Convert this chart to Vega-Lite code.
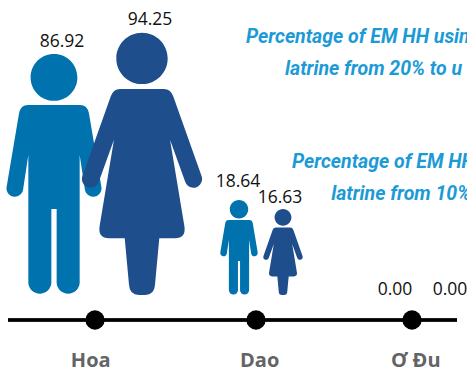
{
"$schema":"https://vega.github.io/schema/vega-lite/v6.json",
"width":467,"height":371,"padding":0,"autosize":{"type":"none"},
"background":"white",
"config":{"view":{"stroke":null},"axis":{"disable":true}},
"datasets":{
"people":[
{"group":"Hoa","gender":"Male","value":86.92,"slot":1,"labelSlot":1.098},
{"group":"Hoa","gender":"Female","value":94.25,"slot":2,"labelSlot":2.082},
{"group":"Dao","gender":"Male","value":18.64,"slot":3,"labelSlot":2.99},
{"group":"Dao","gender":"Female","value":16.63,"slot":4,"labelSlot":3.944},
{"group":"Ơ Đu","gender":"Male","value":0,"slot":5,"labelSlot":5},
{"group":"Ơ Đu","gender":"Female","value":0,"slot":6,"labelSlot":6}
],
"groups":[
{"group":"Hoa","slot":1.5,"labelSlot":1.448},
{"group":"Dao","slot":3.5,"labelSlot":3.568},
{"group":"Ơ Đu","slot":5.5,"labelSlot":5.549}
],
"notes":[
{"text":"Percentage of EM HH usin","slot":3.206,"level":88.25},
{"text":"latrine from 20% to u","slot":4.018,"level":73.27},
{"text":"Percentage of EM HH","slot":4.08,"level":27.91},
{"text":"latrine from 10%","slot":4.43,"level":17.0}
]
},
"layer":[
{"data":{"name":"groups"},"mark":{"type":"rule","stroke":"#000000","strokeWidth":3},
 "encoding":{"x":{"datum":0,"type":"quantitative","scale":{"nice":false,"domain":[0,1,1.5,2,3,3.5,4,5,5.5,6,7],"range":[8,54,95,142,239,256,283,395,412,450,457]}},"x2":{"datum":7},"y":{"datum":-10,"type":"quantitative","scale":{"nice":false,"domain":[-20,-10,0,16.63,18.64,86.92,94.25],"range":[367,320,295,203,187,47,25]}}}},
{"data":{"name":"groups"},"mark":{"type":"point","shape":"circle","filled":true,"opacity":1,"color":"#000000","size":373},
 "encoding":{"x":{"field":"slot","type":"quantitative"},"y":{"datum":-10,"type":"quantitative"}}},
{"data":{"name":"groups"},"mark":{"type":"text","font":"Open Sans","fontWeight":"bold","fontSize":20,"color":"#636466","baseline":"alphabetic","align":"center"},
 "encoding":{"x":{"field":"labelSlot","type":"quantitative"},"y":{"datum":-20,"type":"quantitative"},"text":{"field":"group"}}},
{"data":{"name":"people"},"transform":[{"filter":"datum.value > 0"}],"mark":{"type":"point","filled":true,"opacity":1,"strokeWidth":0},
 "encoding":{"x":{"field":"slot","type":"quantitative"},"y":{"datum":0,"type":"quantitative"},
  "order":{"field":"slot"},
  "color":{"field":"gender","type":"nominal","legend":null,"scale":{"domain":["Male","Female"],"range":["#0072AE","#1F4E8C"]}},
  "shape":{"field":"gender","type":"nominal","legend":null,"scale":{"domain":["Male","Female"],"range":[
   "M-0.194 -1.806A0.194 0.194 0 1 1 0.194 -1.806A0.194 0.194 0 1 1 -0.194 -1.806ZM-0.216 -1.577L0.216 -1.577Q0.277 -1.577 0.29 -1.508L0.393 -0.899A0.069 0.069 0 0 1 0.257 -0.871L0.213 -1.162L0.213 -0.097A0.096 0.096 0 0 1 0.022 -0.097L0.022 -0.714L-0.022 -0.714L-0.022 -0.097A0.096 0.096 0 0 1 -0.213 -0.097L-0.213 -1.162L-0.257 -0.871A0.069 0.069 0 0 1 -0.393 -0.899L-0.29 -1.508Q-0.277 -1.577 -0.216 -1.577Z",
   "M-0.196 -1.806A0.196 0.196 0 1 1 0.196 -1.806A0.196 0.196 0 1 1 -0.196 -1.806ZM-0.168 -1.572L0.168 -1.572Q0.217 -1.572 0.239 -1.516L0.456 -0.904A0.066 0.066 0 0 1 0.329 -0.866L0.214 -1.185L0.324 -0.522Q0.336 -0.433 0.252 -0.433L0.132 -0.433L0.099 -0.076Q0.094 0 0.025 0L-0.025 0Q-0.094 0 -0.099 -0.076L-0.132 -0.433L-0.252 -0.433Q-0.336 -0.433 -0.324 -0.522L-0.214 -1.185L-0.329 -0.866A0.066 0.066 0 0 1 -0.456 -0.904L-0.239 -1.516Q-0.217 -1.572 -0.168 -1.572Z"
  ]}},
  "size":{"field":"value","type":"quantitative","legend":null,"scale":{"domain":[16.63,18.64,86.92,94.25],"range":[7396,9025,58081,68644],"zero":false,"nice":false}}
 }},
{"data":{"name":"people"},"mark":{"type":"text","font":"Open Sans","fontSize":17.5,"color":"#111111","baseline":"alphabetic","align":"center"},
 "encoding":{"x":{"field":"labelSlot","type":"quantitative"},"y":{"field":"value","type":"quantitative"},"text":{"field":"value","type":"quantitative","format":".2f"}}},
{"data":{"name":"notes"},"mark":{"type":"text","font":"Roboto","fontWeight":"bold","fontStyle":"italic","fontSize":19.5,"color":"#1B9AD6","baseline":"alphabetic","align":"left"},
 "encoding":{"x":{"field":"slot","type":"quantitative"},"y":{"field":"level","type":"quantitative"},"text":{"field":"text"}}}
]
}
